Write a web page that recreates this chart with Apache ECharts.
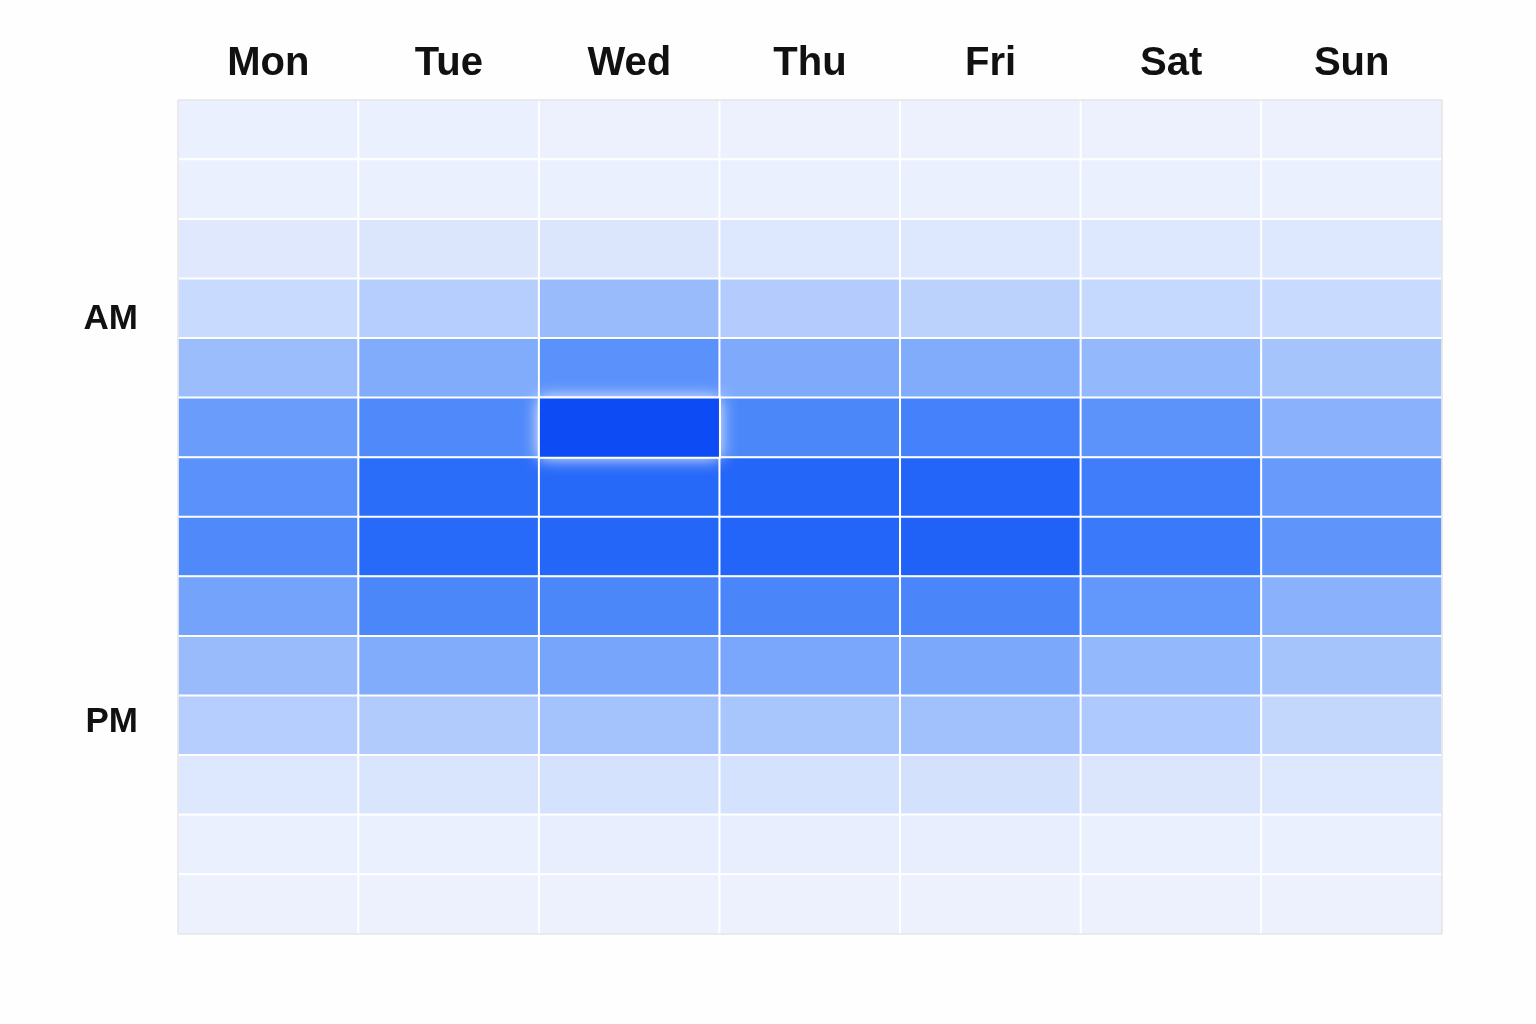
<!DOCTYPE html>
<html>
<head>
<meta charset="utf-8">
<style>
  html, body { margin: 0; padding: 0; background: #fefefe; }
  #chart { width: 1536px; height: 1024px; }
</style>
<script src="https://cdn.jsdelivr.net/npm/echarts@6/dist/echarts.min.js"></script>
</head>
<body>
<div id="chart"></div>
<script>
// Day columns
const days = ['Mon', 'Tue', 'Wed', 'Thu', 'Fri', 'Sat', 'Sun'];
// Time-slot rows (top to bottom) and their side labels
const slots = ['s0','s1','s2','s3','s4','s5','s6','s7','s8','s9','s10','s11','s12','s13'];
const slotLabels = ['', '', '', 'AM', '', '', '', '', '', '', 'PM', '', '', ''];

// Intensity per row (slot), one value per day Mon..Sun
const row0  = [2, 2, 1, 1, 1, 1, 1];
const row1  = [2, 2, 2, 2, 2, 2, 2];
const row2  = [8, 10, 10, 9, 9, 9, 9];
const row3  = [20, 27, 38, 28, 25, 21, 20];
const row4  = [37, 47, 62, 48, 47, 40, 33];
const row5  = [56, 66, 100, 67, 70, 61, 44];
const row6  = [62, 80, 83, 84, 85, 72, 57];
const row7  = [66, 82, 84, 85, 87, 74, 60];
const row8  = [52, 67, 67, 68, 68, 59, 44];
const row9  = [38, 47, 51, 50, 49, 40, 33];
const row10 = [27, 29, 34, 32, 35, 30, 22];
const row11 = [9, 11, 13, 13, 14, 10, 9];
const row12 = [2, 2, 3, 3, 3, 2, 2];
const row13 = [1, 1, 1, 1, 1, 1, 1];
const rows = [row0, row1, row2, row3, row4, row5, row6, row7, row8, row9, row10, row11, row12, row13];

// Highlighted cell (peak): day index, slot index
const peakDay = 2;
const peakSlot = 5;

const data = [];
rows.forEach((vals, y) => {
  vals.forEach((v, x) => { data.push([x, y, v]); });
});
const peakData = [[peakDay, peakSlot, rows[peakSlot][peakDay]]];

const FONT = '"Liberation Sans", Arial, sans-serif';

const chart = echarts.init(document.getElementById('chart'));
chart.setOption({
  backgroundColor: '#fefefe',
  animation: false,
  grid: {
    left: 178, right: 94, top: 100, bottom: 90,
    show: true, borderColor: '#d6d6d6', borderWidth: 1,
    backgroundColor: 'transparent', z: 5
  },
  xAxis: {
    type: 'category',
    data: days,
    position: 'top',
    axisLine: { show: false },
    axisTick: { show: false },
    splitLine: { show: false },
    axisLabel: {
      margin: 16,
      fontSize: 40,
      fontWeight: 'bold',
      color: '#111111',
      fontFamily: FONT
    }
  },
  yAxis: {
    type: 'category',
    data: slots,
    inverse: true,
    axisLine: { show: false },
    axisTick: { show: false },
    splitLine: { show: false },
    axisLabel: {
      interval: 0,
      margin: 40,
      fontSize: 35,
      fontWeight: 'bold',
      color: '#111111',
      fontFamily: FONT,
      formatter: (val, idx) => {
        const t = slotLabels[idx];
        if (t === 'AM') return '{am|AM}';
        if (t === 'PM') return '{pm|PM}';
        return t;
      },
      rich: {
        am: { fontSize: 35, fontWeight: 'bold', color: '#111111', fontFamily: FONT, padding: [22, 0, 0, 0] },
        pm: { fontSize: 35, fontWeight: 'bold', color: '#111111', fontFamily: FONT, padding: [0, 0, 6, 0] }
      }
    }
  },
  visualMap: {
    show: false,
    type: 'continuous',
    min: 0,
    max: 100,
    dimension: 2,
    seriesIndex: [0, 1, 2],
    inRange: {
      color: ['#eef2fd', '#c8dafd', '#94b8fc', '#5f95fb', '#2a6df9', '#0d4bf5']
    }
  },
  series: [
    {
      type: 'heatmap',
      z: 2,
      data: data,
      itemStyle: { borderColor: '#ffffff', borderWidth: 2 },
      emphasis: { disabled: true }
    },
    {
      // white glow around the peak cell
      type: 'heatmap',
      z: 3,
      data: peakData,
      itemStyle: { borderWidth: 0, shadowBlur: 16, shadowColor: 'rgba(255,255,255,1)' },
      emphasis: { disabled: true }
    },
    {
      // crisp peak cell on top of its glow
      type: 'heatmap',
      z: 4,
      data: peakData,
      itemStyle: { borderColor: '#ffffff', borderWidth: 2 },
      emphasis: { disabled: true }
    }
  ]
});
</script>
</body>
</html>
